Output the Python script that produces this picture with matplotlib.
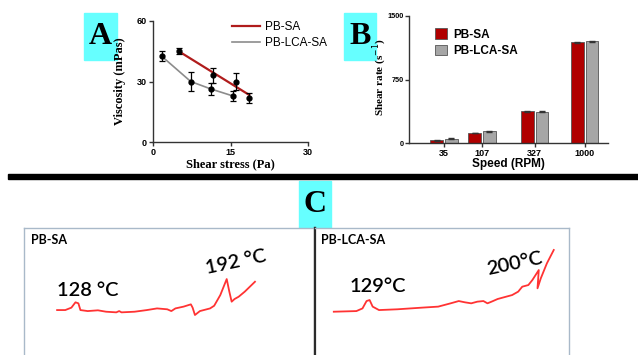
import numpy as np
import matplotlib
matplotlib.use('Agg')
import matplotlib.pyplot as plt
from matplotlib.patches import Rectangle

# ---- panel A : viscosity vs shear stress ----
stress_sa = [5.1, 11.7, 16.0, 18.6]
visc_sa = [45.0, 33.0, 30.0, 22.0]
err_sa = [1.5, 3.5, 4.0, 2.5]
stress_lca = [1.7, 7.3, 11.2, 15.5]
visc_lca = [42.5, 30.0, 26.3, 22.8]
err_lca = [2.5, 4.5, 3.0, 2.5]

# ---- panel B : shear rate vs speed ----
speeds = ['35', '107', '327', '1000']
rate_sa = [31, 118, 373, 1190]
rate_lca = [52, 137, 369, 1200]
rate_err_sa = [3, 5, 6, 8]
rate_err_lca = [3, 6, 6, 8]

# ---- panel C : DSC traces (box %, arbitrary units) ----
dsc_sa_x = [11.5, 14.3, 16.4, 17.8, 18.8, 19.5, 22.0, 25.5, 28.3, 31.8, 32.8, 33.6, 38.1,
            42.3, 45.8, 49.3, 50.7, 52.1, 54.9, 57.4, 58.0, 58.8, 60.5, 64.0, 65.4, 67.5,
            69.7, 70.6, 71.4, 72.4, 73.8, 75.9, 79.4]
dsc_sa_y = [35.4, 35.4, 37.3, 41.5, 40.7, 35.4, 34.6, 35.2, 34.1, 33.6, 34.6, 33.6, 34.1,
            35.4, 36.7, 36.0, 34.6, 36.7, 38.1, 39.9, 37.3, 31.5, 34.6, 36.7, 38.8, 47.2,
            59.8, 49.9, 42.0, 44.1, 45.9, 49.9, 57.7]
dsc_lca_x = [7.4, 16.3, 18.7, 20.3, 21.5, 22.7, 25.2, 32.4, 42.1, 48.5, 53.4, 56.6, 59.0,
             61.5, 63.9, 66.3, 67.9, 69.5, 71.9, 75.2, 77.6, 80.0, 81.6, 84.0, 85.6, 88.1,
             87.6, 88.9, 91.3, 94.0]
dsc_lca_y = [34.1, 34.6, 36.7, 42.5, 43.3, 38.1, 35.4, 36.0, 37.3, 38.1, 40.7, 42.5, 41.5,
             40.7, 42.0, 42.5, 40.7, 42.0, 44.1, 45.9, 47.2, 49.9, 53.8, 55.1, 59.1, 66.9,
             52.5, 60.4, 72.2, 82.7]

W, H = 638, 355
cyan = '#66ffff'
red = '#b01c1c'
grey = '#a6a6a6'
serif = 'Liberation Serif'
sans = 'Liberation Sans'


def rect(l, t, r, b):
    # pixel box -> figure fraction
    return [l / W, 1 - b / H, (r - l) / W, (b - t) / H]


def letter_box(l, t, r, b, letter):
    fig.add_artist(Rectangle((l / W, 1 - b / H), (r - l) / W, (b - t) / H,
                             transform=fig.transFigure, color=cyan, zorder=0))
    fig.text((l + r) / 2 / W, 1 - (t + b) / 2 / H, letter, family=serif, weight='bold',
             fontsize=23, ha='center', va='center')


def style_axes(ax):
    for s in ['top', 'right']:
        ax.spines[s].set_visible(False)
    for s in ['left', 'bottom']:
        ax.spines[s].set_color('#333333')
        ax.spines[s].set_linewidth(1.0)
    ax.tick_params(direction='out', length=3, width=1, color='#333333', pad=1.5)


fig = plt.figure(figsize=(6.38, 3.55), dpi=100)

# panel A
axA = fig.add_axes(rect(153, 21, 308, 142))
style_axes(axA)
fit = np.polyfit(stress_sa, visc_sa, 1)
xf = np.array([min(stress_sa), max(stress_sa)])
axA.plot(xf, np.polyval(fit, xf), color=red, lw=1.6, label='PB-SA', zorder=2)
axA.plot(stress_lca, visc_lca, color='#8c8c8c', lw=1.2, label='PB-LCA-SA', zorder=2)
axA.errorbar(stress_sa, visc_sa, yerr=err_sa, fmt='o', color='black', ms=3.5,
             capsize=2.5, elinewidth=0.9, capthick=0.9, zorder=3)
axA.errorbar(stress_lca, visc_lca, yerr=err_lca, fmt='o', color='black', ms=3.5,
             capsize=2.5, elinewidth=0.9, capthick=0.9, zorder=3)
axA.set_xlim(0, 30)
axA.set_ylim(0, 60)
axA.set_xticks([0, 15, 30])
axA.set_yticks([0, 30, 60])
for lab in axA.get_xticklabels() + axA.get_yticklabels():
    lab.set_family(sans)
    lab.set_weight('bold')
    lab.set_fontsize(6.5)
axA.set_xlabel('Shear stress (Pa)', family=serif, weight='bold', fontsize=9, labelpad=1)
axA.set_ylabel('Viscosity (mPas)', family=serif, weight='bold', fontsize=9)
axA.yaxis.set_label_coords(-0.175, 0.5)
axA.legend(loc='upper left', bbox_to_anchor=(0.47, 1.05), frameon=False, borderpad=0,
           handlelength=2.4, handletextpad=0.4, labelspacing=0.35,
           prop={'family': sans, 'size': 8.5})

# panel B
axB = fig.add_axes(rect(409, 16, 608, 143))
style_axes(axB)
axB.tick_params(axis='y', pad=1)
pos = np.array([0, 0.745, 1.78, 2.76])
bw = 0.25
axB.bar(pos - bw / 2 - 0.02, rate_sa, bw, yerr=rate_err_sa, color='#b00000',
        edgecolor='#555555', lw=0.6, capsize=2, error_kw={'elinewidth': 0.8, 'ecolor': '#333333'},
        label='PB-SA')
axB.bar(pos + bw / 2 + 0.02, rate_lca, bw, yerr=rate_err_lca, color=grey,
        edgecolor='#555555', lw=0.6, capsize=2, error_kw={'elinewidth': 0.8, 'ecolor': '#333333'},
        label='PB-LCA-SA')
axB.set_xlim(-0.686, 3.22)
axB.set_ylim(0, 1500)
axB.set_yticks([0, 750, 1500])
axB.set_xticks(pos)
axB.set_xticklabels(speeds)
for lab in axB.get_yticklabels():
    lab.set_family(sans)
    lab.set_weight('bold')
    lab.set_fontsize(5.2)
for lab in axB.get_xticklabels():
    lab.set_family(sans)
    lab.set_weight('bold')
    lab.set_fontsize(6.5)
axB.set_xlabel('Speed (RPM)', family=sans, weight='bold', fontsize=8.5, labelpad=0)
axB.set_ylabel('Shear rate (s$^{-1}$)', family=serif, weight='bold', fontsize=8)
axB.yaxis.set_label_coords(-0.1, 0.52)
axB.legend(loc='upper left', bbox_to_anchor=(0.1, 0.95), frameon=False, borderpad=0,
           handlelength=1.0, handleheight=1.0, handletextpad=0.6, labelspacing=0.35,
           prop={'family': sans, 'weight': 'bold', 'size': 8.5})

letter_box(84, 13, 117, 60, 'A')
letter_box(344, 13, 376, 60, 'B')
letter_box(299, 181, 331, 228, 'C')

# thick divider
fig.add_artist(Rectangle((8 / W, 1 - 179 / H), (638 - 8) / W, 5 / H,
                         transform=fig.transFigure, color='black', zorder=1))

# panel C
panels = [
    (rect(23.6, 228, 315, 361), dsc_sa_x, dsc_sa_y, 'PB-SA',
     [('128 °C', 11.5, 51, 0, 'left'), ('192 °C', 73, 73, 12, 'center')], 'right'),
    (rect(315, 228, 569, 361), dsc_lca_x, dsc_lca_y, 'PB-LCA-SA',
     [('129°C', 24.6, 54, 0, 'center'), ('200°C', 78.5, 72, 12, 'center')], 'left'),
]
for box, xs, ys, name, notes, dark in panels:
    ax = fig.add_axes(box)
    ax.set_xlim(0, 100)
    ax.set_ylim(-4.7, 100)
    ax.set_xticks([])
    ax.set_yticks([])
    for s in ax.spines.values():
        s.set_color('#a9b9c9')
        s.set_linewidth(1.0)
    ax.spines[dark].set_color('#2b2b2b')
    ax.spines[dark].set_linewidth(1.6)
    ax.plot(xs, ys, color='#ff3333', lw=1.3)
    ax.text(2.4, 90.5, name, family='Lato', weight='bold', fontsize=9, va='center')
    for txt, tx, ty, rot, ha in notes:
        ax.text(tx, ty, txt, family='Lato', weight='semibold', fontsize=14.5, ha=ha,
                va='center', rotation=rot, rotation_mode='anchor')

fig.savefig('out.png', dpi=100)
